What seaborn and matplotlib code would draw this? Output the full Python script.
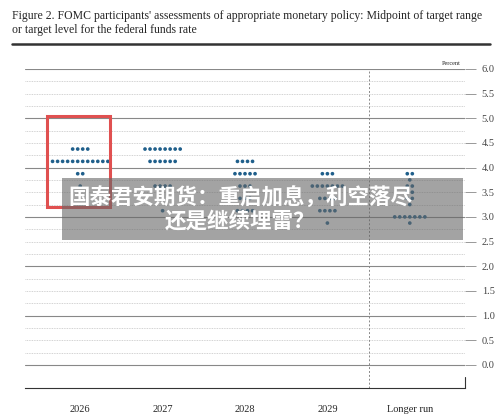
import matplotlib

matplotlib.use("Agg")
import matplotlib.pyplot as plt
import numpy as np
import pandas as pd
import seaborn as sns
from matplotlib.patches import Rectangle

# ============================================================
# Data
# ============================================================
PERIODS = ["2026", "2027", "2028", "2029", "Longer run"]
RATES_2026 = [4.375, 4.125, 3.875, 3.625]
COUNTS_2026 = [4, 12, 2, 1]
RATES_2027 = [4.375, 4.125, 3.625, 3.125]
COUNTS_2027 = [8, 6, 4, 1]
RATES_2028 = [4.125, 3.875, 3.625, 3.375, 3.125]
COUNTS_2028 = [4, 5, 3, 3, 4]
RATES_2029 = [3.875, 3.625, 3.375, 3.125, 2.875]
COUNTS_2029 = [3, 7, 4, 4, 1]
RATES_LR = [3.875, 3.75, 3.625, 3.5, 3.375, 3.25, 3.0, 2.875]
COUNTS_LR = [2, 1, 2, 2, 2, 1, 7, 1]

TITLE = ("Figure 2. FOMC participants' assessments of appropriate monetary policy: Midpoint of target range\n"
         "or target level for the federal funds rate")
BANNER = "国泰君安期货：重启加息，利空落尽\n还是继续埋雷？"

DOT_STEP = 0.061

rows = []
for i, (rates, counts) in enumerate(zip(
        [RATES_2026, RATES_2027, RATES_2028, RATES_2029, RATES_LR],
        [COUNTS_2026, COUNTS_2027, COUNTS_2028, COUNTS_2029, COUNTS_LR])):
    for r, n in zip(rates, counts):
        offs = (np.arange(n) - (n - 1) / 2) * DOT_STEP
        for o in offs:
            rows.append({"x": i + o, "rate": r})
df = pd.DataFrame(rows)

# ============================================================
# Plot
# ============================================================
sns.set_style("white")
fig = plt.figure(figsize=(5, 4.2), dpi=100)
ax = fig.add_axes([0.05, 0.076, 0.88, 0.76])

for y in np.arange(0, 6.01, 0.25):
    if abs(y - round(y)) < 1e-9:
        ax.axhline(y, color="#888888", lw=0.8, zorder=0)
    else:
        ax.axhline(y, color="#c4c4c4", lw=0.6, ls=(0, (1, 1)), zorder=0)
ax.axvline(3.5, color="#888888", lw=0.7, ls=(0, (2, 2)), zorder=0)

sns.scatterplot(data=df, x="x", y="rate", ax=ax, color="#1f5f8b",
                s=7, edgecolor="none", legend=False, zorder=3)

ax.set_xlim(-0.67, 4.67)
ax.set_ylim(-0.47, 6.0)
ax.set_xticks(range(len(PERIODS)))
ax.set_xticklabels(PERIODS, family="Liberation Serif", fontsize=7.5)
ax.set_xlabel("")
ax.set_ylabel("")
ax.yaxis.tick_right()
ax.set_yticks(np.arange(0, 6.01, 0.5))
ax.set_yticklabels([f"{v:.1f}" for v in np.arange(0, 6.01, 0.5)],
                   family="Liberation Serif", fontsize=7.5, color="#444444")
ax.tick_params(axis="y", length=8, width=0.6, color="#888888", pad=4)
ax.tick_params(axis="x", length=0, pad=12)
for s in ["top", "left", "right"]:
    ax.spines[s].set_visible(False)
ax.spines["bottom"].set_color("#333333")
ax.plot([4.67, 4.67], [-0.47, -0.25], color="#333333", lw=0.8, clip_on=False)
ax.text(4.62, 6.05, "Percent", family="Liberation Serif", fontsize=4.5,
        ha="right", va="bottom")

# red highlight box around 2026
ax.add_patch(Rectangle((-0.40, 3.2), 0.76, 1.85, fill=False,
                       edgecolor="#e05050", lw=2.2, zorder=4))

# title and rule
fig.text(0.024, 0.975, TITLE, family="Liberation Serif", fontsize=8.5,
         ha="left", va="top", linespacing=1.15)
fig.add_artist(plt.Line2D([0.024, 0.98], [0.895, 0.895], color="#333333", lw=1.8))

# banner overlay
fig.add_artist(Rectangle((0.124, 0.428), 0.802, 0.148, transform=fig.transFigure,
                         facecolor="#666666", alpha=0.6, edgecolor="none", zorder=5))
fig.text(0.48, 0.502, BANNER, family=["Noto Sans CJK SC", "DejaVu Sans"],
         fontsize=15.5, fontweight="bold", color="white", ha="center",
         va="center", linespacing=1.05, zorder=6)

fig.savefig("out.png", dpi=100)
